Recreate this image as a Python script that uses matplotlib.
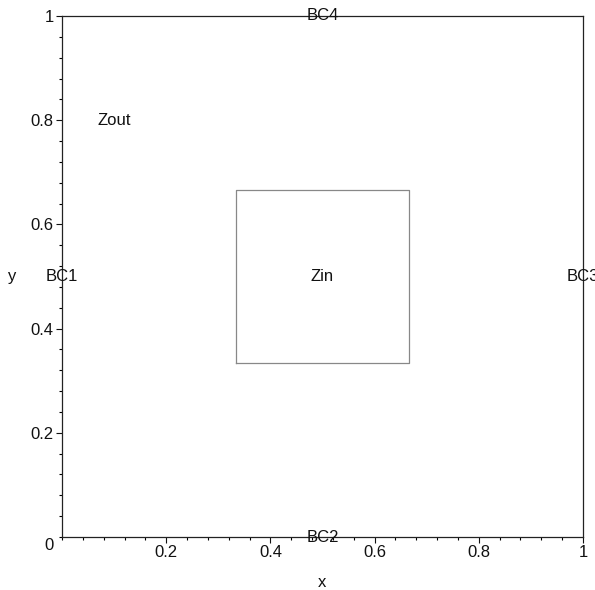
import matplotlib
matplotlib.use("Agg")
import matplotlib.pyplot as plt
from matplotlib.ticker import MultipleLocator

# data
inner_x = [1 / 3, 2 / 3, 2 / 3, 1 / 3, 1 / 3]
inner_y = [1 / 3, 1 / 3, 2 / 3, 2 / 3, 1 / 3]
label_text = ["BC1", "BC2", "BC3", "BC4", "Zin", "Zout"]
label_x = [0.0, 0.5, 1.0, 0.5, 0.5, 0.1]
label_y = [0.5, 0.0, 0.5, 1.0, 0.5, 0.8]
xtick_vals = [0.2, 0.4, 0.6, 0.8, 1.0]
xtick_labels = ["0.2", "0.4", "0.6", "0.8", "1"]
ytick_vals = [0.2, 0.4, 0.6, 0.8, 1.0]
ytick_labels = ["0.2", "0.4", "0.6", "0.8", "1"]

plt.rcParams["font.family"] = ["Liberation Sans", "DejaVu Sans"]
plt.rcParams["font.size"] = 12

fig = plt.figure(figsize=(5.95, 5.90), dpi=100)
ax = fig.add_axes([62 / 595, 53 / 590, 521 / 595, 521 / 590])

ax.plot(inner_x, inner_y, color="#888888", lw=0.9)
for t, x, y in zip(label_text, label_x, label_y):
    ax.text(x, y, t, ha="center", va="center", color="#111111", clip_on=False)

ax.set_xlim(0, 1)
ax.set_ylim(0, 1)
ax.set_xticks(xtick_vals)
ax.set_xticklabels(xtick_labels)
ax.set_yticks(ytick_vals)
ax.set_yticklabels(ytick_labels)
ax.xaxis.set_minor_locator(MultipleLocator(0.04))
ax.yaxis.set_minor_locator(MultipleLocator(0.04))
ax.tick_params(which="major", length=4, width=0.8, pad=2, colors="#111111")
ax.tick_params(which="minor", length=2.2, width=0.8)
ax.text(-0.017, -0.002, "0", transform=ax.transAxes, ha="right", va="top", color="#111111")

for s in ax.spines.values():
    s.set_linewidth(0.9)
    s.set_color("#222222")

ax.set_xlabel("x", color="#111111")
ax.xaxis.set_label_coords(0.5, -0.072)
ax.set_ylabel("y", rotation=0, ha="center", va="center", color="#111111")
ax.yaxis.set_label_coords(-0.096, 0.5)

fig.savefig("out.png", dpi=100)
